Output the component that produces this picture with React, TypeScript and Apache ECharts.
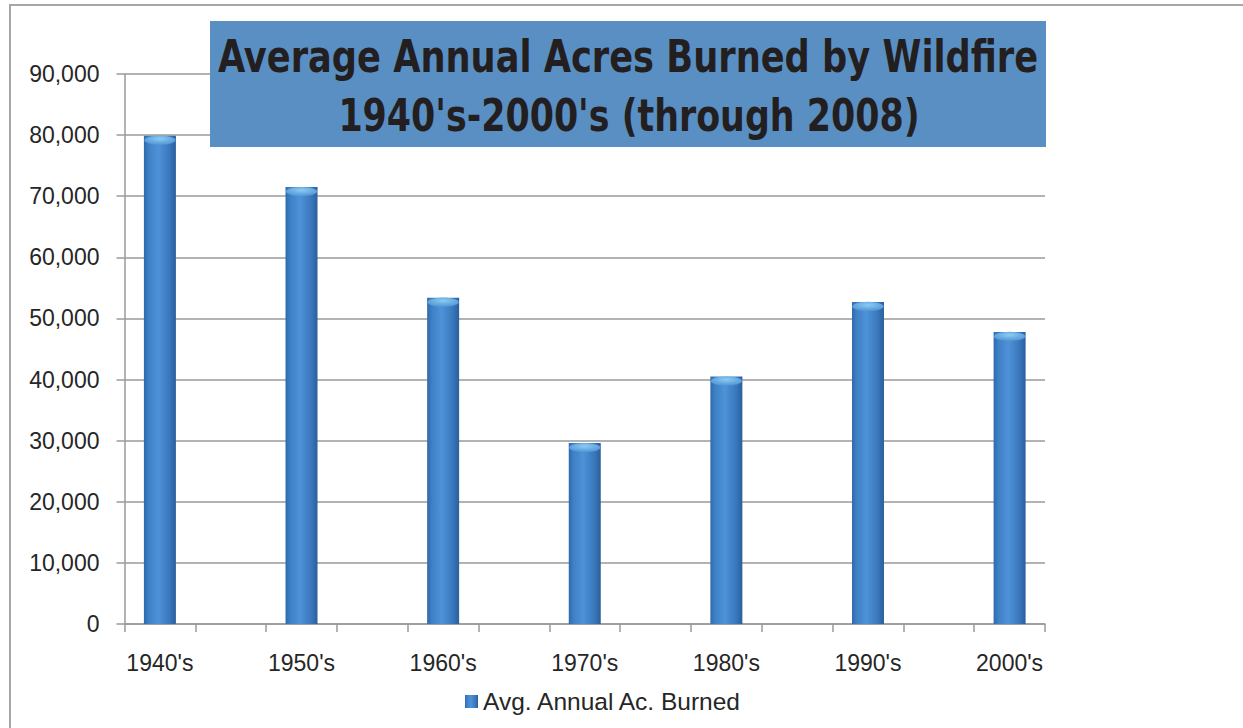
import React, { useEffect, useRef } from "react";
import * as echarts from "echarts";

const decades = ["1940's", "1950's", "1960's", "1970's", "1980's", "1990's", "2000's"];
const acresBurned = [79900, 71500, 53400, 29600, 40500, 52700, 47800];
const yTicks = [0, 10000, 20000, 30000, 40000, 50000, 60000, 70000, 80000, 90000];
const titleLines = ["Average Annual Acres Burned by Wildfire", "1940's-2000's (through 2008)"];
const seriesName = "Avg. Annual Ac. Burned";

export default function App() {
  const ref = useRef<HTMLDivElement>(null);
  useEffect(() => {
    document.body.style.margin = "0";
    const chart = echarts.init(ref.current!, null, { renderer: "svg" });
    // interleave blank slots between decades (as in the original chart)
    const cats: string[] = [];
    const vals: (number | string)[] = [];
    decades.forEach((d, i) => {
      cats.push(d);
      vals.push(acresBurned[i]);
      if (i < decades.length - 1) {
        cats.push("");
        vals.push("-");
      }
    });
    const font = "'Liberation Sans', Arial, sans-serif";
    const titleFont = "bold 44px 'DejaVu Sans Condensed', 'DejaVu Sans', sans-serif";
    const barGrad = new echarts.graphic.LinearGradient(0, 0, 1, 0, [
      { offset: 0, color: "#2f6aab" },
      { offset: 0.15, color: "#3f80c6" },
      { offset: 0.45, color: "#4e92d8" },
      { offset: 0.8, color: "#3a78bd" },
      { offset: 1, color: "#2a5f9c" },
    ]);
    const capGrad = new echarts.graphic.RadialGradient(0.5, 0.35, 0.6, [
      { offset: 0, color: "#8ccbf2" },
      { offset: 1, color: "#5498d8" },
    ]);
    chart.setOption({
      animation: false,
      grid: { left: 124.5, right: 198, top: 74, bottom: 104, containLabel: false },
      graphic: [
        {
          type: "rect",
          shape: { x: 10, y: 5, width: 1400, height: 900 },
          style: { fill: "none", stroke: "#a6a6a6", lineWidth: 2 },
          silent: true,
        },
        {
          type: "rect",
          z: 10,
          shape: { x: 210, y: 21, width: 836, height: 126 },
          style: { fill: "#5a8fc4" },
        },
        {
          type: "text",
          z: 11,
          x: 628,
          y: 57,
          scaleX: 0.89,
          style: {
            text: titleLines[0],
            fill: "#231f20",
            font: titleFont,
            textAlign: "center",
            textVerticalAlign: "middle",
          },
        },
        {
          type: "text",
          z: 11,
          x: 629,
          y: 116,
          scaleX: 0.88,
          style: {
            text: titleLines[1],
            fill: "#231f20",
            font: titleFont,
            textAlign: "center",
            textVerticalAlign: "middle",
          },
        },
      ],
      legend: {
        data: [seriesName],
        left: 465,
        top: 689,
        padding: 0,
        itemWidth: 13,
        itemHeight: 13,
        itemGap: 5,
        textStyle: { fontFamily: font, fontSize: 24.5, color: "#262626" },
        icon: "rect",
      },
      xAxis: {
        type: "category",
        data: cats,
        boundaryGap: true,
        axisLine: { lineStyle: { color: "#9a9a9a", width: 1.5 } },
        axisTick: { show: true, interval: 0, length: 8, lineStyle: { color: "#9a9a9a", width: 1.5 } },
        axisLabel: { interval: 0, margin: 27, fontFamily: font, fontSize: 23, color: "#262626" },
        splitLine: { show: false },
      },
      yAxis: {
        type: "value",
        min: 0,
        max: 90000,
        interval: 10000,
        axisLine: { show: true, lineStyle: { color: "#9a9a9a", width: 1.5 } },
        axisTick: { show: true, length: 8, lineStyle: { color: "#9a9a9a", width: 1.5 } },
        axisLabel: {
          margin: 25,
          fontFamily: font,
          fontSize: 23,
          color: "#262626",
          formatter: (v: number) => (yTicks.includes(v) ? v.toLocaleString("en-US") : ""),
        },
        splitLine: { show: true, lineStyle: { color: "#9a9a9a", width: 1.5 } },
      },
      series: [
        {
          name: seriesName,
          type: "bar",
          data: vals,
          barWidth: 32,
          itemStyle: { color: barGrad },
        },
        {
          name: "cap",
          type: "pictorialBar",
          data: vals,
          symbol: "circle",
          symbolSize: [31, 9],
          symbolPosition: "end",
          symbolOffset: [0, 0],
          barWidth: 32,
          z: 5,
          silent: true,
          itemStyle: { color: capGrad },
        },
      ],
    });
    return () => chart.dispose();
  }, []);
  return <div ref={ref} style={{ width: 1243, height: 728 }} />;
}
